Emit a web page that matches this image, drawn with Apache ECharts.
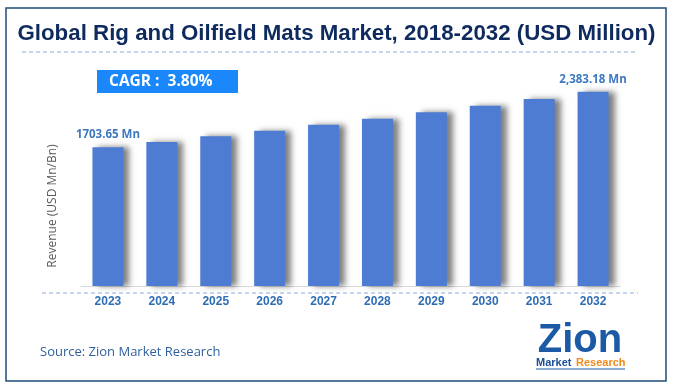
<!DOCTYPE html>
<html><head><meta charset="utf-8">
<script src="https://cdn.jsdelivr.net/npm/echarts@6/dist/echarts.min.js"></script>
<style>html,body{margin:0;padding:0;background:#fff}#c{width:673px;height:388px}</style>
</head><body><div id="c"></div>
<script>
var years = ['2023','2024','2025','2026','2027','2028','2029','2030','2031','2032'];
var revenue = [1703.65, 1768, 1836, 1905, 1978, 2053, 2131, 2212, 2296, 2383.18];
var firstLabel = '1703.65 Mn';
var lastLabel = '2,383.18 Mn';
var titleText = 'Global Rig and Oilfield Mats Market, 2018-2032 (USD Million)';
var cagrText = 'CAGR :  3.80%';
var yName = 'Revenue (USD Mn/Bn)';
var sourceText = 'Source: Zion Market Research';

var chart = echarts.init(document.getElementById('c'));
chart.setOption({
  backgroundColor: '#fff',
  animation: false,
  title: {
    text: titleText, left: 'center', top: 18,
    textStyle: {fontFamily: '"Liberation Sans", Arial, sans-serif', fontWeight: 'bold', fontSize: 22.3, color: '#0e2a5e'}
  },
  grid: {left: 81, right: 53, top: 57.8, bottom: 102},
  xAxis: {
    type: 'category', data: years,
    axisLine: {lineStyle: {color: '#d9d9d9', width: 1}},
    axisTick: {show: false},
    axisLabel: {margin: 10, fontFamily: '"Liberation Sans", Arial, sans-serif', fontWeight: 'bold', fontSize: 12, color: '#2e6db4'}
  },
  yAxis: {
    type: 'value', min: 0, max: 2800, show: false,
    splitLine: {show: false}
  },
  series: [{
    type: 'bar', data: revenue, barWidth: 31,
    itemStyle: {color: '#4d7cd2', shadowColor: 'rgba(0,0,0,0.5)', shadowBlur: 6, shadowOffsetX: 6, shadowOffsetY: 0},
    label: {
      show: true, position: 'top', distance: 6,
      fontFamily: '"Open Sans", sans-serif', fontWeight: 'bold', fontSize: 11.5, color: '#3d78c0',
      formatter: function (p) {
        if (p.dataIndex === 0) return firstLabel;
        if (p.dataIndex === years.length - 1) return lastLabel;
        return '';
      }
    }
  }],
  graphic: [
    {type: 'rect', shape: {x: 6, y: 8, width: 660, height: 373}, style: {fill: 'none', stroke: '#1f4e79', lineWidth: 1.5}, silent: true, z: 10},
    {type: 'line', shape: {x1: 22, y1: 52, x2: 638, y2: 52}, style: {stroke: '#8eaadb', lineWidth: 1, lineDash: [4, 3]}},
    {type: 'line', shape: {x1: 42, y1: 293, x2: 638, y2: 293}, style: {stroke: '#8eaadb', lineWidth: 1, lineDash: [4, 3]}},
    {type: 'rect', shape: {x: 97, y: 70, width: 141, height: 23}, style: {fill: '#1a88fa'}},
    {type: 'text', x: 109, y: 81.5, style: {text: cagrText, fill: '#fff', font: 'bold 15.5px "Open Sans", sans-serif', textVerticalAlign: 'middle'}},
    {type: 'text', x: 53, y: 206, rotation: Math.PI / 2, style: {text: yName, fill: '#595959', font: '12px "Open Sans", sans-serif', textAlign: 'center', textVerticalAlign: 'middle'}},
    {type: 'text', x: 40, y: 352, style: {text: sourceText, fill: '#2f5f9e', font: '13px "Open Sans", sans-serif', textVerticalAlign: 'middle'}},
    {type: 'text', x: 580, y: 341, style: {text: 'Zion', fill: '#1d5aa6', font: 'bold 40px "Liberation Sans", sans-serif', textAlign: 'center', textVerticalAlign: 'middle'}},
    {type: 'text', x: 536, y: 363, style: {text: 'Market', fill: '#1d4f96', font: 'bold 11px "Liberation Sans", sans-serif', textVerticalAlign: 'middle'}},
    {type: 'text', x: 576, y: 363, style: {text: 'Research', fill: '#f08a1c', font: 'bold 11px "Liberation Sans", sans-serif', textVerticalAlign: 'middle'}},
    {type: 'line', shape: {x1: 536, y1: 369, x2: 625, y2: 369}, style: {stroke: '#1d5aa6', lineWidth: 1}}
  ]
});
</script></body></html>
